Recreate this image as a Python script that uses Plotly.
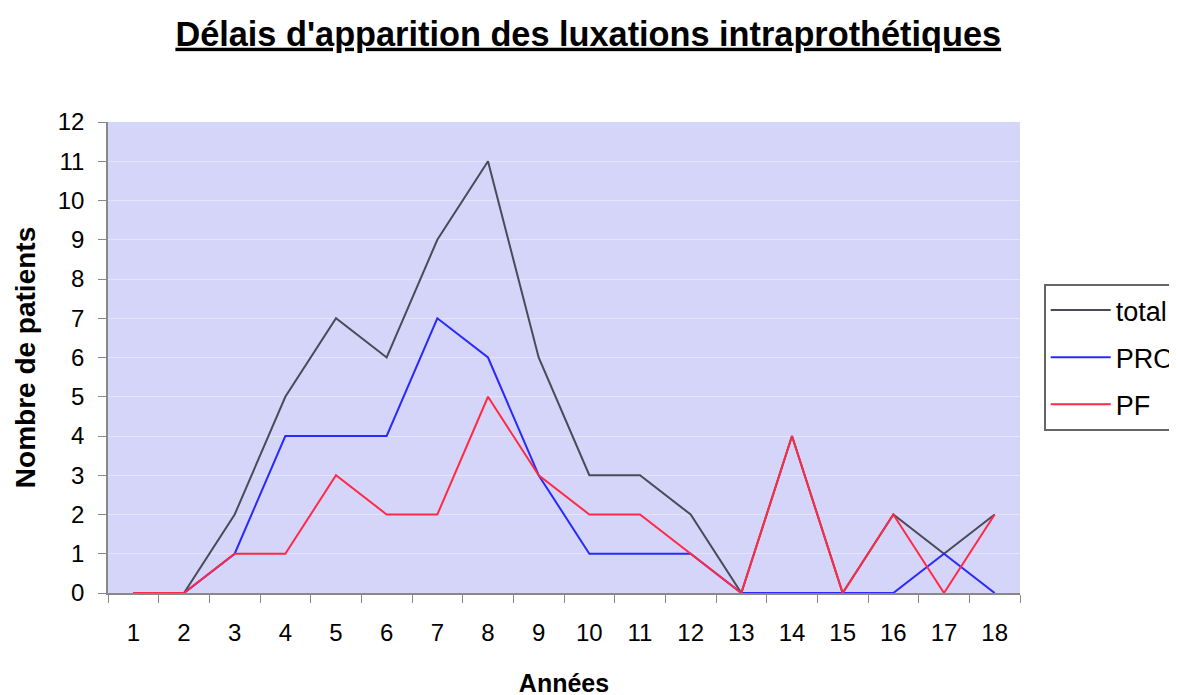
import plotly.graph_objects as go

annees = list(range(1, 19))
total = [0, 0, 2, 5, 7, 6, 9, 11, 6, 3, 3, 2, 0, 4, 0, 2, 1, 2]
pro = [0, 0, 1, 4, 4, 4, 7, 6, 3, 1, 1, 1, 0, 0, 0, 0, 1, 0]
pf = [0, 0, 1, 1, 3, 2, 2, 5, 3, 2, 2, 1, 0, 4, 0, 2, 0, 2]
y_ticks = list(range(0, 13))

FONT = "Liberation Sans, Arial, sans-serif"

fig = go.Figure()
fig.add_trace(go.Scatter(x=annees, y=total, mode="lines", name="total",
                         line=dict(color="#4a4a58", width=2), legendgroup="a"))
fig.add_trace(go.Scatter(x=annees, y=pro, mode="lines", name="PRO",
                         line=dict(color="#2a2aff", width=2), legendgroup="b"))
fig.add_trace(go.Scatter(x=annees, y=pf, mode="lines", name="PF",
                         line=dict(color="#ff2a45", width=2), legendgroup="c"))

fig.update_layout(
    width=1177, height=695,
    paper_bgcolor="white",
    plot_bgcolor="#d5d5f9",
    margin=dict(l=100, r=165, t=114, b=110, autoexpand=False),
    title=dict(text="<b><u>Délais d'apparition des luxations intraprothétiques</u></b>",
               x=0.493, xanchor="center", y=0.963, yanchor="middle",
               font=dict(family=FONT, size=34.3, color="black")),
    font=dict(family=FONT, size=24, color="black"),
    showlegend=True,
    legend=dict(x=1.026, xanchor="left", y=0.5, yanchor="middle",
                bordercolor="#666666", borderwidth=2, bgcolor="white",
                font=dict(family=FONT, size=27, color="black"),
                tracegroupgap=9, itemwidth=60),
    xaxis=dict(
        tickmode="array", tickvals=annees, ticktext=[str(a) for a in annees],
        range=[0.5, 18.5], showgrid=False, zeroline=False,
        showline=True, linecolor="#888888", linewidth=1.5,
        ticks="", tickfont=dict(size=24), ticklabelstandoff=17,
        title=dict(text="<b>Années</b>", font=dict(size=25), standoff=30),
        minor=dict(tickmode="array", tickvals=[a + 0.5 for a in [0] + annees],
                   ticks="outside", ticklen=8, tickcolor="#888888", showgrid=False),
    ),
    yaxis=dict(
        tickmode="array", tickvals=y_ticks, range=[0, 12],
        showgrid=True, gridcolor="#e4e4fb", gridwidth=1,
        zeroline=False, showline=True, linecolor="#888888", linewidth=1.5,
        ticks="outside", ticklen=8, tickcolor="#888888",
        tickfont=dict(size=24), ticklabelstandoff=9,
        title=dict(text="<b>Nombre de patients</b>", font=dict(size=28), standoff=14),
    ),
)

fig.write_html("out.html")
